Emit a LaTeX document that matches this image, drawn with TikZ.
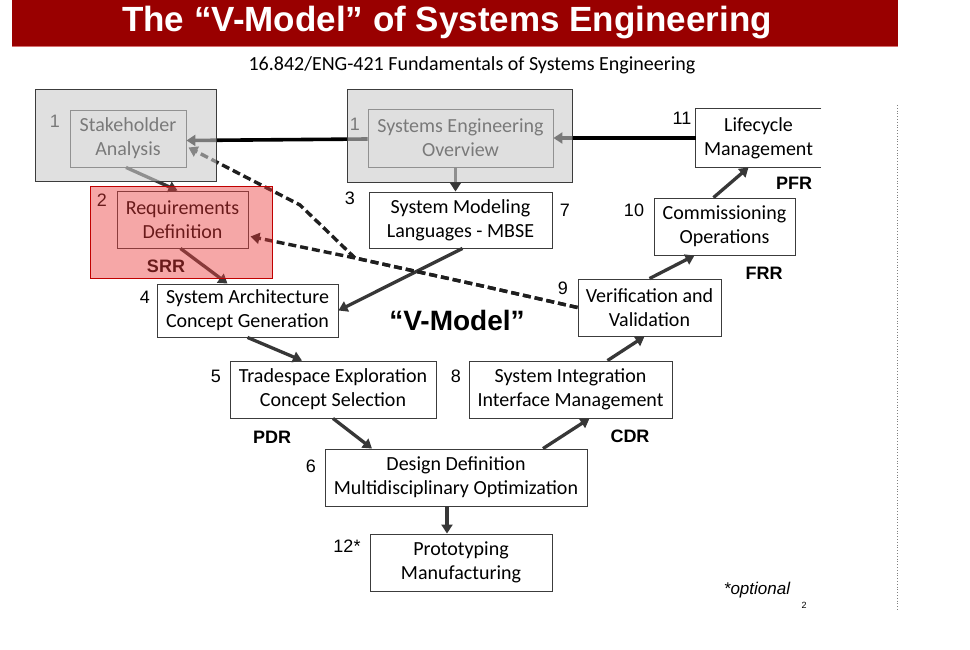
\documentclass[tikz,border=0pt]{standalone}
\usepackage{fontspec}
\setmainfont{Carlito}
\newfontfamily\arialfont{Liberation Sans}
\usetikzlibrary{arrows.meta,calc}

\definecolor{titlered}{RGB}{153,0,0}
\definecolor{titleline}{RGB}{214,110,110}
\definecolor{boxline}{RGB}{60,60,60}
\definecolor{flowgray}{RGB}{55,55,55}
\definecolor{veilgray}{RGB}{203,203,203}
\definecolor{veilred}{RGB}{235,60,60}
\definecolor{veilredline}{RGB}{192,0,0}

\tikzset{
  stepbox/.style={draw=boxline, line width=0.9pt, fill=white, align=center,
    inner sep=0pt, font=\fontsize{20}{24}\selectfont},
  num/.style={font=\arialfont\fontsize{18}{20}\selectfont, inner sep=0pt},
  review/.style={font=\arialfont\bfseries\fontsize{18}{20}\selectfont, inner sep=0pt},
  flow/.style={draw=flowgray, line width=3.3pt, -{Triangle[length=9pt,width=11pt]}},
  link/.style={draw=black, line width=3.6pt, -{Triangle[length=9pt,width=11pt]}},
  trace/.style={draw=black!88, line width=3.4pt, dash pattern=on 8pt off 4pt,
    -{Triangle[length=9pt,width=11pt]}},
  grayveil/.style={draw=boxline, line width=1pt, fill=veilgray,
    fill opacity=0.6, draw opacity=1, inner sep=0pt},
  redveil/.style={draw=veilredline, line width=1pt, fill=veilred,
    fill opacity=0.45, draw opacity=1, inner sep=0pt},
}

\begin{document}
\begin{tikzpicture}[x=1pt,y=-1pt]
\useasboundingbox (0,0) rectangle (970,650);

% title banner
\fill[titlered] (12,0) rectangle (898,46);
\draw[titleline, line width=1.2pt] (12,46.6) -- (898,46.6);
\node[text=white, font=\arialfont\bfseries\fontsize{35}{40}\selectfont, inner sep=0pt]
  (title) at (447,23) {The “V-Model” of Systems Engineering};
\node[font=\fontsize{20}{22}\selectfont, inner sep=0pt]
  (subtitle) at (472,65) {16.842/ENG-421 Fundamentals of Systems Engineering};

% page separator
\draw[gray, dotted, line width=0.8pt] (897,105) -- (897,610);

% process steps
\node[stepbox, minimum width=116pt, minimum height=57pt] (SHin) at (128,138.5) {Stakeholder\\Analysis};
\node[stepbox, minimum width=131pt, minimum height=57pt] (RQin) at (182.5,219.5) {Requirements\\Definition};
\node[stepbox, minimum width=185pt, minimum height=58pt] (SEin) at (460.5,138) {Systems Engineering\\Overview};
\node[stepbox, minimum width=183pt, minimum height=56pt] (SM) at (460.5,220) {System Modeling\\Languages - MBSE};
\node[stepbox, draw=none, minimum width=125pt, minimum height=58pt] (LC) at (758.5,138) {Lifecycle\\Management};
\draw[boxline, line width=0.9pt] (LC.north east) -- (LC.north west) -- (LC.south west) -- (LC.south east);
\node[stepbox, minimum width=141pt, minimum height=57pt] (CO) at (724.5,226.5) {Commissioning\\Operations};
\node[stepbox, minimum width=143pt, minimum height=57pt] (VV) at (649.5,307.5) {Verification and\\Validation};
\node[stepbox, minimum width=181pt, minimum height=53pt] (SA) at (247.5,310.5) {System Architecture\\Concept Generation};
\node[stepbox, minimum width=206pt, minimum height=57pt] (TE) at (333,389.5) {Tradespace Exploration\\Concept Selection};
\node[stepbox, minimum width=203pt, minimum height=57pt] (SI) at (570.5,389.5) {System Integration\\Interface Management};
\node[stepbox, minimum width=262pt, minimum height=57pt] (DD) at (456,477.5) {Design Definition\\Multidisciplinary Optimization};
\node[stepbox, minimum width=182pt, minimum height=57pt] (PM) at (461,562.5) {Prototyping\\Manufacturing};

% step numbers
\node[num] (n1a) at (55,121) {1};
\node[num] (n1b) at (355,124) {1};
\node[num] (n2) at (102,200) {2};
\node[num] (n3) at (350,198) {3};
\node[num] (n7) at (565,210) {7};
\node[num] (n11) at (682,118) {11};
\node[num] (n10) at (634,210) {10};
\node[num] (n9) at (563,288) {9};
\node[num] (n4) at (145,297) {4};
\node[num] (n5) at (216,376) {5};
\node[num] (n8) at (456,376) {8};
\node[num] (n6) at (311,466) {6};
\node[num] (n12) at (347,546) {12*};

% review milestones
\node[review] (SRR) at (166,266) {SRR};
\node[review] (PFR) at (794,183) {PFR};
\node[review] (FRR) at (764,273) {FRR};
\node[review] (PDR) at (272,437) {PDR};
\node[review] (CDR) at (630,436) {CDR};

\node[font=\arialfont\bfseries\fontsize{28}{30}\selectfont, inner sep=0pt] (vmodel) at (457,320) {“V-Model”};
\node[font=\arialfont\itshape\fontsize{17}{20}\selectfont, inner sep=0pt] (optional) at (757,590) {*optional};
\node[font=\arialfont\fontsize{9}{10}\selectfont, inner sep=0pt] (page) at (804,605) {2};

% course flow
\draw[link] (LC.west) -- (SEin.east);
\draw[link] ([yshift=-1pt]SEin.west) -- ([yshift=-2pt]SHin.east);
\draw[flow] ([xshift=-2pt]SHin.south) -- ([xshift=-5pt]RQin.north);
\draw[flow] ([xshift=-5pt]SEin.south) -- ([xshift=-5pt]SM.north);
\draw[flow] ([xshift=-2pt]RQin.south) -- ([xshift=-20pt]SA.north);
\draw[flow] ([xshift=2pt]SM.south) -- (SA.east);
\draw[flow] (SA.south) -- ([xshift=-31pt]TE.north);
\draw[flow] (TE.south) -- ([xshift=-84pt]DD.north);
\draw[flow] ([xshift=87pt]DD.north) -- ([xshift=19pt]SI.south);
\draw[flow] ([xshift=37pt]SI.north) -- ([xshift=-5pt]VV.south);
\draw[flow] (VV.north) -- ([xshift=-30pt]CO.south);
\draw[flow] ([xshift=-11pt]CO.north) -- ([xshift=-10pt]LC.south);
\draw[flow] ([xshift=-9pt]DD.south) -- ([xshift=-14pt]PM.north);

% feedback from verification
\coordinate (vbend) at (478,285);
\coordinate (vmerge) at (355,258);
\coordinate (vknee) at (300,205);
\draw[trace] (VV.west) -- (vbend) -- (vmerge) -- (vknee) -- ([xshift=2pt,yshift=-9pt]SHin.east);
\draw[trace] (VV.west) -- (vbend) -- (vmerge) -- ([xshift=2pt,yshift=-17pt]RQin.east);

% shaded frames for the introductory steps
\node[grayveil, minimum width=181pt, minimum height=92pt] (SHout) at (125.5,136) {};
\node[grayveil, minimum width=225pt, minimum height=93pt] (SEout) at (459.5,136.5) {};
\node[redveil, minimum width=182pt, minimum height=91pt] (RQout) at (181,232.5) {};
\end{tikzpicture}
\end{document}
